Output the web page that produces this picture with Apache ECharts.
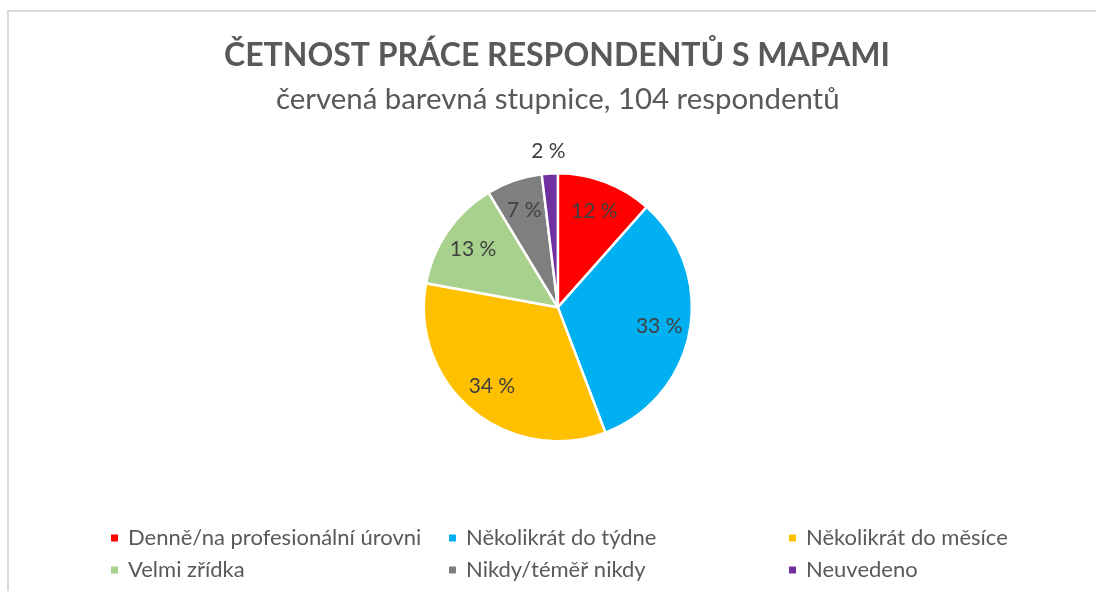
<!DOCTYPE html>
<html>
<head>
<meta charset="utf-8">
<style>
  html, body { margin: 0; padding: 0; background: #fff; overflow: hidden; }
  #frame { position: absolute; left: 7px; top: 10px; width: 1200px; height: 700px; border: 2px solid #d9d9d9; }
  #chart { position: absolute; left: 0; top: 0; width: 1096px; height: 591px; }
</style>
<script src="https://cdn.jsdelivr.net/npm/echarts@6/dist/echarts.min.js"></script>
</head>
<body>
<div id="frame"></div>
<div id="chart"></div>
<script>
// answers of 104 respondents
const categories = [
    'Denně/na profesionální úrovni',
    'Několikrát do týdne',
    'Několikrát do měsíce',
    'Velmi zřídka',
    'Nikdy/téměř nikdy',
    'Neuvedeno'
];
const counts = [12, 34, 35, 14, 7, 2];
const colors = ['#ff0000', '#00b0f0', '#ffc000', '#a9d18e', '#7f7f7f', '#7030a0'];

const font = 'Lato';
const center = ['50.9%', '52%'];

const fmt = (p) => Math.round(p.percent) + ' %';
const labelText = { fontFamily: font, fontSize: 21, color: '#404040' };

// legend columns: [column items, left]
const legendCols = [
    [[categories[0], categories[3]], 104],
    [[categories[1], categories[4]], 442],
    [[categories[2], categories[5]], 782]
];

// which label goes where
const lastIdx = categories.length - 1;
const pieData = (labelShown) => categories.map((name, i) => ({
    name,
    value: counts[i],
    label: { show: labelShown(i) }
}));

const chart = echarts.init(document.getElementById('chart'), null, { renderer: 'canvas' });

chart.setOption({
    backgroundColor: 'transparent',
    color: colors,
    textStyle: { fontFamily: font },
    title: [
        {
            text: 'ČETNOST PRÁCE RESPONDENTŮ S MAPAMI',
            left: 219,
            top: 35,
            textStyle: { fontFamily: font, fontSize: 32, fontWeight: 'bold', color: '#595959' }
        },
        {
            text: 'červená barevná stupnice, 104 respondentů',
            left: 271,
            top: 80,
            textStyle: { fontFamily: font, fontSize: 29.4, fontWeight: 'normal', color: '#595959' }
        }
    ],
    legend: legendCols.map(([items, left]) => ({
        data: items,
        orient: 'vertical',
        left: left,
        top: 522,
        icon: 'rect',
        itemWidth: 9,
        itemHeight: 9,
        itemGap: 10,
        selectedMode: false,
        textStyle: { fontFamily: font, fontSize: 22, color: '#595959', padding: [0, 0, 0, 4] }
    })),
    series: [
        {
            name: 'main',
            type: 'pie',
            center: center,
            radius: 134,
            startAngle: 90,
            silent: true,
            itemStyle: { borderColor: '#fff', borderWidth: 2.5 },
            label: { show: false },
            labelLine: { show: false },
            data: pieData(() => false)
        },
        {
            // inner labels, drawn at ~3/4 of the radius
            name: 'labels',
            type: 'pie',
            center: center,
            radius: 200,
            startAngle: 90,
            silent: true,
            itemStyle: { color: 'transparent' },
            label: Object.assign({ position: 'inside', formatter: fmt }, labelText),
            labelLine: { show: false },
            data: pieData((i) => i !== lastIdx)
        },
        {
            // outside label of the smallest slice
            name: 'outer',
            type: 'pie',
            center: center,
            radius: 306,
            startAngle: 90,
            silent: true,
            itemStyle: { color: 'transparent' },
            label: Object.assign({ position: 'inside', formatter: fmt }, labelText),
            labelLine: { show: false },
            data: pieData((i) => i === lastIdx)
        }
    ]
});
</script>
</body>
</html>
